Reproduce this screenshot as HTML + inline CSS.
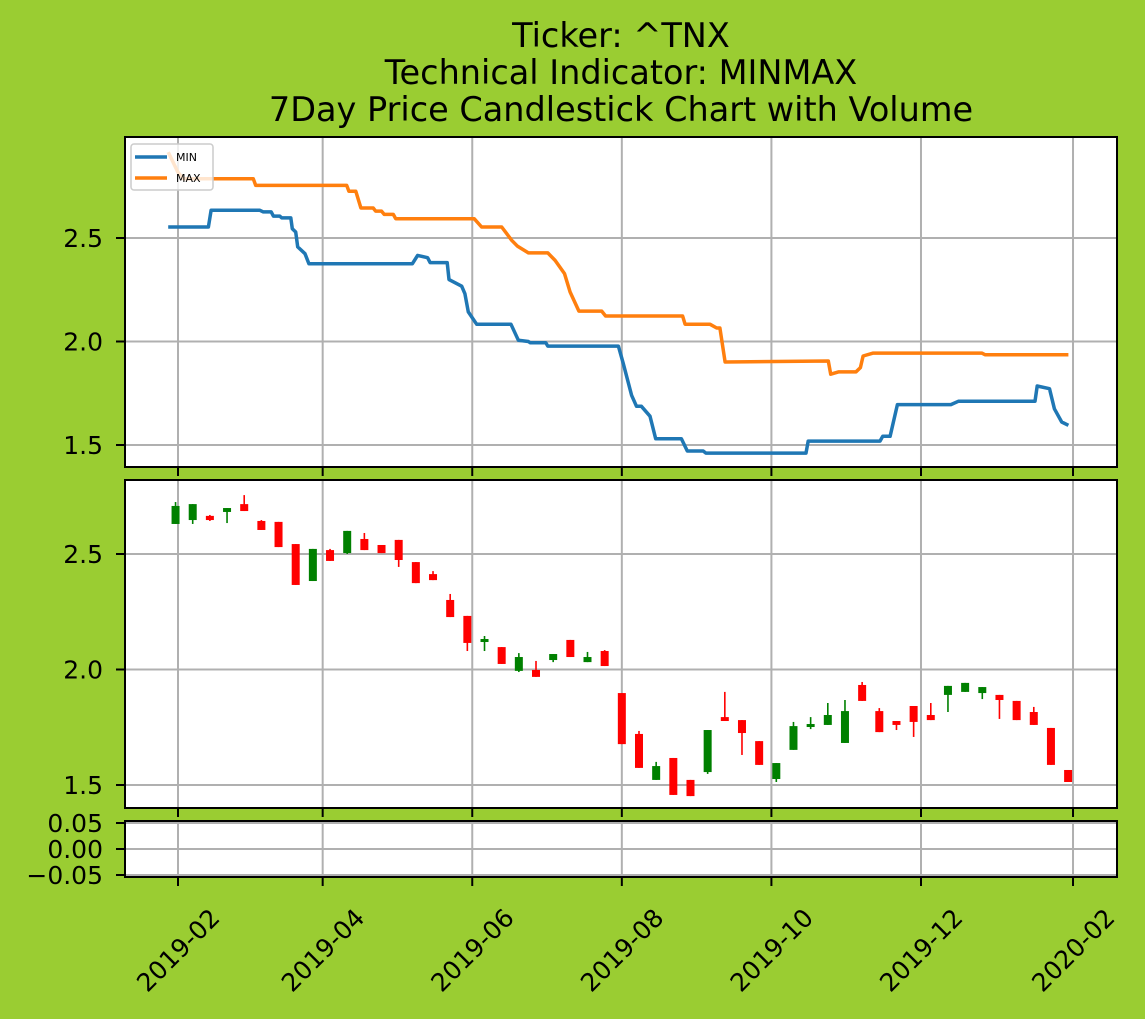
<!DOCTYPE html>
<html><head><meta charset="utf-8">
<style>
html,body{margin:0;padding:0;background:#9acd32;}
svg{display:block;font-family:"DejaVu Sans","Liberation Sans",sans-serif;}
</style></head>
<body>
<svg id="chart" width="1145" height="1019" viewBox="0 0 1145 1019" xmlns="http://www.w3.org/2000/svg">
<rect width="1145" height="1019" fill="#9acd32"/>
<g font-size="33.5" text-anchor="middle" fill="#000">
<text x="621" y="47">Ticker: ^TNX</text>
<text x="621" y="84">Technical Indicator: MINMAX</text>
<text x="621" y="121">7Day Price Candlestick Chart with Volume</text>
</g>
</svg>
<script>
// ---- data ----
const minDays = [-4,12.4,13.5,33.4,34.8,38,38.9,41.5,42.3,46,46.6,48,48.8,51.8,53.4,95.6,97.7,101.8,102.8,109.8,110.5,115.7,117,118.4,121.8,135.8,138.8,142.9,143.6,150,150.8,179.6,181.6,185,187,189,192.5,194.8,205.3,207.7,214.2,215.3,256.1,257,286.3,287.4,290.4,293.4,315.2,318.2,349.5,350.4,355.4,357.4,360.4,363.1];
const minVals = [2.553,2.553,2.634,2.634,2.626,2.626,2.606,2.606,2.597,2.597,2.545,2.529,2.457,2.424,2.376,2.376,2.416,2.405,2.381,2.381,2.299,2.267,2.231,2.143,2.083,2.083,2.006,2.0,1.994,1.994,1.978,1.978,1.893,1.740,1.687,1.687,1.639,1.530,1.530,1.471,1.471,1.461,1.461,1.519,1.519,1.542,1.542,1.695,1.695,1.711,1.711,1.785,1.772,1.675,1.611,1.595];
const maxDays = [-4,-0.1,2.2,30.7,31.7,68.8,69.7,72.5,74.6,79.6,80.6,83,84.1,87.8,88.8,120.8,123.8,132,136.1,138.5,142.9,150.8,153.8,157.6,159.9,163.5,172.8,174.4,205.8,206.8,217,219.7,221,223.1,265.2,266.2,269.3,276.5,278.3,279.4,283.5,327.8,329.1,363.1];
const maxVals = [2.915,2.819,2.786,2.786,2.754,2.754,2.726,2.726,2.645,2.645,2.630,2.630,2.614,2.614,2.593,2.593,2.553,2.553,2.489,2.460,2.428,2.428,2.392,2.328,2.239,2.147,2.147,2.123,2.123,2.083,2.083,2.065,2.065,1.901,1.906,1.842,1.853,1.853,1.874,1.930,1.944,1.944,1.936,1.936];
const candleDates = ["2019-01-31","2019-02-07","2019-02-14","2019-02-21","2019-02-28","2019-03-07","2019-03-14","2019-03-21","2019-03-28","2019-04-04","2019-04-11","2019-04-18","2019-04-25","2019-05-02","2019-05-09","2019-05-16","2019-05-23","2019-05-30","2019-06-06","2019-06-13","2019-06-20","2019-06-27","2019-07-04","2019-07-11","2019-07-18","2019-07-25","2019-08-01","2019-08-08","2019-08-15","2019-08-22","2019-08-29","2019-09-05","2019-09-12","2019-09-19","2019-09-26","2019-10-03","2019-10-10","2019-10-17","2019-10-24","2019-10-31","2019-11-07","2019-11-14","2019-11-21","2019-11-28","2019-12-05","2019-12-12","2019-12-19","2019-12-26","2020-01-02","2020-01-09","2020-01-16","2020-01-23","2020-01-30"];
const opens  = [2.630,2.647,2.665,2.682,2.716,2.643,2.639,2.543,2.383,2.517,2.504,2.565,2.539,2.561,2.465,2.413,2.301,2.232,2.119,2.097,1.994,1.998,2.041,2.128,2.032,2.080,1.898,1.721,1.522,1.617,1.522,1.556,1.794,1.781,1.690,1.526,1.652,1.751,1.760,1.682,1.933,1.820,1.777,1.842,1.803,1.890,1.903,1.898,1.890,1.864,1.816,1.747,1.565];
const highs  = [2.725,2.716,2.669,2.699,2.755,2.647,2.639,2.543,2.522,2.522,2.600,2.591,2.539,2.561,2.465,2.426,2.327,2.232,2.145,2.097,2.071,2.037,2.067,2.128,2.076,2.084,1.898,1.734,1.600,1.617,1.522,1.738,1.903,1.781,1.690,1.595,1.773,1.794,1.855,1.868,1.946,1.833,1.777,1.842,1.855,1.929,1.942,1.924,1.890,1.864,1.838,1.747,1.565];
const lows   = [2.630,2.630,2.643,2.634,2.686,2.604,2.530,2.366,2.383,2.470,2.500,2.517,2.504,2.444,2.374,2.387,2.227,2.080,2.080,2.024,1.989,1.968,2.032,2.054,2.032,2.015,1.677,1.574,1.522,1.457,1.452,1.548,1.777,1.630,1.587,1.513,1.652,1.742,1.760,1.682,1.864,1.729,1.738,1.708,1.781,1.816,1.903,1.872,1.786,1.781,1.760,1.587,1.513];
const closes = [2.708,2.716,2.647,2.699,2.686,2.604,2.530,2.366,2.522,2.470,2.600,2.517,2.504,2.474,2.374,2.387,2.227,2.115,2.132,2.024,2.054,1.968,2.067,2.054,2.054,2.015,1.677,1.574,1.582,1.457,1.452,1.738,1.777,1.725,1.587,1.595,1.755,1.764,1.803,1.820,1.864,1.729,1.760,1.773,1.781,1.929,1.942,1.924,1.868,1.781,1.760,1.587,1.513];
const xTickLabels = ["2019-02","2019-04","2019-06","2019-08","2019-10","2019-12","2020-02"];
const xTickDates = ["2019-02-01","2019-04-01","2019-06-01","2019-08-01","2019-10-01","2019-12-01","2020-02-01"];
const y1Ticks = [1.5,2.0,2.5];
const y2Ticks = [1.5,2.0,2.5];
const y3Ticks = [0.05,0.00,-0.05];
const y3Labels = ["0.05","0.00","\u22120.05"];

// ---- scales ----
const L=125,R=1117;
const ORIGIN=Date.UTC(2019,1,1);
function dayOf(s){const p=s.split('-');return (Date.UTC(+p[0],+p[1]-1,+p[2])-ORIGIN)/86400000;}
function xd(d){return 178+d*2.4521;}
function y1(v){return 238+(2.5-v)*207;}
function y2(v){return 554+(2.5-v)*231;}
function y3(v){return 849-v*520;}
const P1={t:137,b:467},P2={t:480,b:808},P3={t:821,b:877};

const NS="http://www.w3.org/2000/svg";
const svg=document.getElementById('chart');
function mk(tag,attrs,parent){const e=document.createElementNS(NS,tag);for(const k in attrs)e.setAttribute(k,attrs[k]);(parent||svg).appendChild(e);return e;}

function panel(P,name){
  const g=mk('g',{});
  
  
  const bg=mk('rect',{x:L,y:P.t,width:R-L,height:P.b-P.t,fill:'#fff'},g);
  
  
  return g;
}
function grid(g,P,name,yticks,yf,labels){
  xTickDates.forEach((d,i)=>{
    const x=xd(dayOf(d));
    const l=mk('line',{x1:x,x2:x,y1:P.t,y2:P.b,stroke:'#b0b0b0','stroke-width':2},g);
    
    
    const t=mk('line',{x1:x,x2:x,y1:P.b,y2:P.b+9,stroke:'#000','stroke-width':2},g);
    
    
  });
  yticks.forEach((v,i)=>{
    const y=yf(v);
    const l=mk('line',{x1:L,x2:R,y1:y,y2:y,stroke:'#b0b0b0','stroke-width':2},g);
    
    
    const t=mk('line',{x1:L-9,x2:L,y1:y,y2:y,stroke:'#000','stroke-width':2},g);
    
    
    const tx=mk('text',{x:103,y:y+9,'font-size':25,'text-anchor':'end',fill:'#000'},g);
    
    
    tx.textContent=labels?labels[i]:v.toFixed(1);
  });
}
function frame(g,P,name){
  const f=mk('rect',{x:L,y:P.t,width:R-L,height:P.b-P.t,fill:'none',stroke:'#000','stroke-width':2},g);
  
  
}

// panel 1: min/max lines
const g1=panel(P1,'minmax-panel');
grid(g1,P1,'minmax-panel',y1Ticks,y1);
function series(days,vals,color,name){
  const pts=days.map((d,i)=>xd(d).toFixed(1)+','+y1(vals[i]).toFixed(1)).join(' ');
  const pl=mk('polyline',{points:pts,fill:'none',stroke:color,'stroke-width':3.5,'stroke-linejoin':'round'},g1);
  
  
}
series(minDays,minVals,'#1f77b4','min-line');
series(maxDays,maxVals,'#ff7f0e','max-line');
// legend
const lg=mk('g',{},g1);


mk('rect',{x:131,y:144,width:82,height:46,rx:3,fill:'#fff','fill-opacity':0.8,stroke:'#ccc','stroke-width':1.5},lg);
const e1=mk('g',{},lg);


mk('line',{x1:135,x2:167,y1:157,y2:157,stroke:'#1f77b4','stroke-width':3.5},e1);
const t1=mk('text',{x:176,y:161,'font-size':11,fill:'#000'},e1);t1.textContent='MIN';
const e2=mk('g',{},lg);


mk('line',{x1:135,x2:167,y1:178,y2:178,stroke:'#ff7f0e','stroke-width':3.5},e2);
const t2=mk('text',{x:176,y:182,'font-size':11,fill:'#000'},e2);t2.textContent='MAX';
frame(g1,P1,'minmax-panel');

// panel 2: candlesticks
const g2=panel(P2,'candlestick-panel');
grid(g2,P2,'candlestick-panel',y2Ticks,y2);
candleDates.forEach((d,i)=>{
  const x=xd(dayOf(d));
  const up=closes[i]>=opens[i];
  const col=up?'#008000':'#ff0000';
  const cg=mk('g',{},g2);
  
  
  mk('line',{x1:x,x2:x,y1:y2(highs[i]),y2:y2(lows[i]),stroke:col,'stroke-width':1.6},cg);
  const top=y2(Math.max(opens[i],closes[i])),bot=y2(Math.min(opens[i],closes[i]));
  mk('rect',{x:x-4,y:top,width:8,height:Math.max(bot-top,1),fill:col},cg);
});
frame(g2,P2,'candlestick-panel');

// panel 3: volume (empty)
const g3=panel(P3,'volume-panel');
grid(g3,P3,'volume-panel',y3Ticks,y3,y3Labels);
frame(g3,P3,'volume-panel');

// x tick labels (rotated)
xTickDates.forEach((d,i)=>{
  const x=xd(dayOf(d));
  const t=mk('text',{x:x,y:959,'font-size':25,'text-anchor':'middle',fill:'#000',transform:'rotate(-45 '+x+' 950)'});
  
  
  t.textContent=xTickLabels[i];
});
</script>
</body></html>
